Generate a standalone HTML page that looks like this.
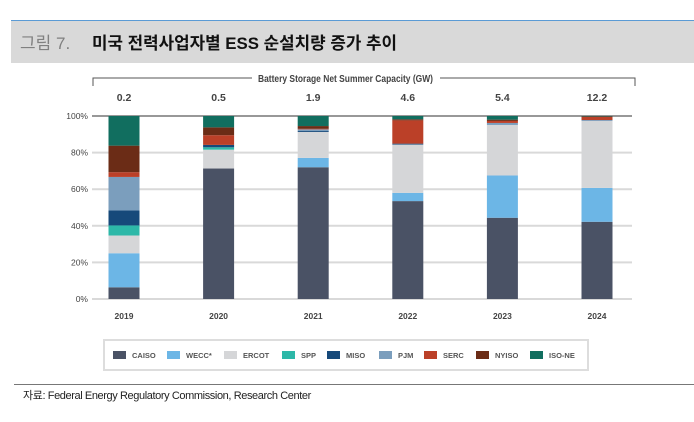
<!DOCTYPE html>
<html><head><meta charset="utf-8"><style>
body{margin:0;background:#fff;width:694px;height:417px;overflow:hidden;font-family:"Liberation Sans","Noto Sans CJK KR",sans-serif}
</style></head><body>
<svg id="c" width="694" height="417" xmlns="http://www.w3.org/2000/svg">
<rect x="11" y="20" width="683" height="43" fill="#d9d9d9"/>
<line x1="11" y1="20.5" x2="694" y2="20.5" stroke="#5b9bd5" stroke-width="1"/>
<text x="20" y="49" font-size="17" fill="#808080">그림 7.</text>
<text x="92" y="49" font-size="17" font-weight="bold" fill="#111" textLength="305" lengthAdjust="spacingAndGlyphs">미국 전력사업자별 ESS 순설치량 증가 추이</text>
<path d="M93,86 V78 H252 M440,78 H635 V86" fill="none" stroke="#555" stroke-width="1"/>
<text x="258" y="82" font-size="10" font-weight="bold" fill="#444" textLength="175" lengthAdjust="spacingAndGlyphs">Battery Storage Net Summer Capacity (GW)</text>
<g id="grid"></g><g id="bars"></g><g id="labels"></g>
<rect x="104" y="340" width="484" height="30" fill="#fff" stroke="#ddd" stroke-width="2"/>
<g id="legend"></g>
<line x1="14" y1="384.5" x2="694" y2="384.5" stroke="#777" stroke-width="1"/>
<text x="23" y="399" font-size="11" fill="#222" letter-spacing="-0.4">자료: Federal Energy Regulatory Commission, Research Center</text>
</svg>
<script>
const years=["2019","2020","2021","2022","2023","2024"];
const totals=["0.2","0.5","1.9","4.6","5.4","12.2"];
const yTicks=[0,20,40,60,80,100];
const seriesNames=["CAISO","WECC*","ERCOT","SPP","MISO","PJM","SERC","NYISO","ISO-NE"];
const CAISO=[6.4,71.3,72,53.5,44.4,42.2];
const WECC=[18.6,0,5.1,4.5,23.1,18.5];
const ERCOT=[9.7,10.3,14.2,26.4,27.6,36.6];
const SPP=[5.5,1.3,0,0,0,0];
const MISO=[8.2,1.3,0.5,0.5,0,0];
const PJM=[18.3,0,0.9,0,1.1,0.5];
const SERC=[2.6,5.3,0.3,12.7,1.1,1.7];
const NYISO=[14.5,4.3,1.5,0.6,0.7,0.3];
const ISONE=[16.2,6.2,5.5,1.8,2,0.2];
const series=[CAISO,WECC,ERCOT,SPP,MISO,PJM,SERC,NYISO,ISONE];
const colors=["#4a5265","#6cb6e6","#d5d6d8","#2db8a8","#16497a","#7b9ebd","#bb4028","#6b2c16","#116e5f"];
const NS="http://www.w3.org/2000/svg";
const y0=299,y1=116,xL=92,xR=632;
const yS=v=>y0-(v/100)*(y0-y1);
const xS=i=>124+i*94.6;
function mk(t,a,p){const e=document.createElementNS(NS,t);for(const k in a)e.setAttribute(k,a[k]);if(p)document.getElementById(p).appendChild(e);return e;}
yTicks.forEach(t=>{
 const l=mk("line",{x1:xL,x2:xR,y1:yS(t),y2:yS(t),stroke:t==100?"#777":"#d9d9d9","stroke-width":t==100?1.5:2},"grid");
 
 
 const tx=mk("text",{x:88,y:yS(t)+3,"font-size":8.5,fill:"#444","text-anchor":"end"},"grid");
 tx.textContent=t+"%";
 
 
});
years.forEach((yr,i)=>{
 let acc=0;
 series.forEach((s,k)=>{
  const v=s[i]; if(v<=0)return;
  const r=mk("rect",{x:xS(i)-15.5,width:31,y:yS(acc+v),height:yS(acc)-yS(acc+v),fill:colors[k]},"bars");
  
  
  acc+=v;
 });
 const a=mk("text",{x:xS(i),y:319,"font-size":8.5,"font-weight":"bold",fill:"#444","text-anchor":"middle"},"labels");
 a.textContent=yr;
 
 
 const b=mk("text",{x:xS(i),y:101,"font-size":10.5,"font-weight":"bold",fill:"#444","text-anchor":"middle"},"labels");
 b.textContent=totals[i];
 
 
});
const lx=[113,167,224,282,327,379,424,476,530];
seriesNames.forEach((n,k)=>{
 const g=mk("g",{},"legend");
 
 
 g.appendChild(mk("rect",{x:lx[k],y:351,width:13,height:8,fill:colors[k]}));
 const t=mk("text",{x:lx[k]+19,y:358,"font-size":7.5,"font-weight":"bold",fill:"#555"});
 t.textContent=n; g.appendChild(t);
});
</script>
</body></html>
